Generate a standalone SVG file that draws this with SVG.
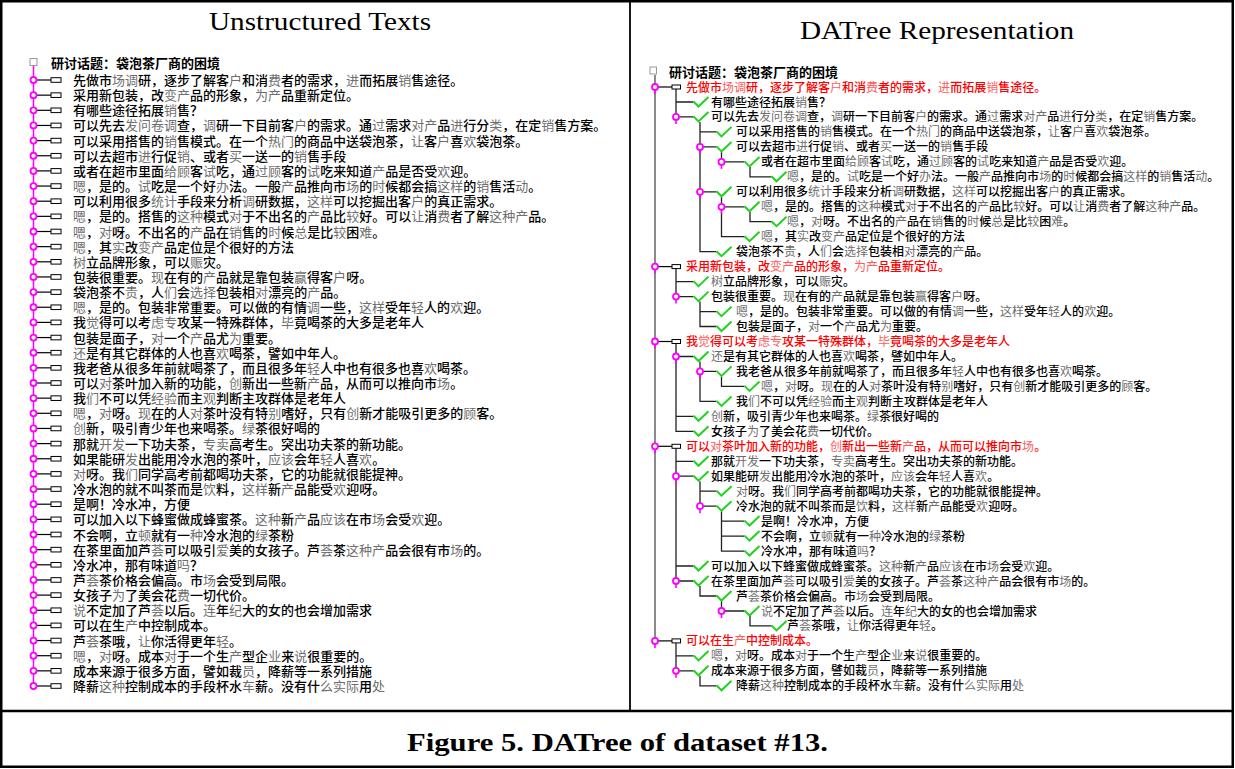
<svg xmlns="http://www.w3.org/2000/svg" xmlns:xlink="http://www.w3.org/1999/xlink" width="1235" height="769" viewBox="0 0 1235 769">
<style>
.t{font-family:"Noto Sans CJK SC","Noto Sans CJK JP",sans-serif;font-size:13px;font-weight:500;fill:#000}
.rt{font-size:12px}
.g{fill:#6e6e6e;font-weight:400}
.red{fill:#f00}
.red .g{fill:#ff5c5c}
.hd{font-weight:bold}
.ttl{font-family:"Liberation Serif","DejaVu Serif",serif;fill:#000}
.sub{fill:none;stroke:#222;stroke-width:1.3}
</style>
<defs>
<path id="ck" d="M0,-0.5 l5,5 l10,-9.5" fill="none" stroke="#1fd31f" stroke-width="2"/>
<g id="pin"><line x1="0" y1="3" x2="0" y2="7" stroke="#f0f" stroke-width="1.6"/><circle r="3" fill="#fff" stroke="#f0f" stroke-width="1.8"/></g>
<g id="lk"><line x1="36.5" y1="0" x2="51" y2="0" stroke="#000" stroke-width="1.2"/><rect x="51" y="-2.3" width="10" height="4.6" fill="#fff" stroke="#000" stroke-width="1"/><circle cx="33.5" cy="0" r="3" fill="#fff" stroke="#f0f" stroke-width="1.8"/></g>
<g id="r1"><line x1="658" y1="0" x2="672" y2="0" stroke="#000" stroke-width="1.2"/><rect x="672" y="-2" width="8.5" height="4" fill="#fff" stroke="#000" stroke-width="1"/><use xlink:href="#pin" x="655"/></g>
</defs>

<g id="frame" fill="none" stroke="#000">
<rect x="1.25" y="1.25" width="1231.5" height="765.5" stroke-width="2.5"/>
<line x1="630" y1="1" x2="630" y2="711" stroke-width="1.8"/>
<line x1="1" y1="711" x2="1234" y2="711" stroke-width="2.5"/>
</g>

<g id="titles" class="ttl">
<text x="209" y="30" font-size="26" textLength="222" lengthAdjust="spacingAndGlyphs">Unstructured Texts</text>
<text x="800" y="39" font-size="26" textLength="274" lengthAdjust="spacingAndGlyphs">DATree Representation</text>
<text x="407" y="751" font-size="25" font-weight="bold" textLength="421" lengthAdjust="spacingAndGlyphs">Figure 5. DATree of dataset #13.</text>
</g>

<!-- LEFT PANEL -->
<g id="left-connectors">
<line x1="33.5" y1="66" x2="33.5" y2="686" stroke="#f0f" stroke-width="1.5"/>
</g>
<g id="u-header">
<rect x="30" y="58.5" width="7" height="7" fill="#fff" stroke="#999" stroke-width="1"/>
<text class="t hd" x="51" y="67.5" font-size="14.5">研讨话题：袋泡茶厂商的困境</text>
</g>
<g id="u1" transform="translate(0,80)"><use xlink:href="#lk"/><text class="t" x="73" y="5">先做市<tspan class="g">场调</tspan>研，逐步了解客<tspan class="g">户</tspan>和消<tspan class="g">费</tspan>者的需求，<tspan class="g">进</tspan>而拓展<tspan class="g">销</tspan>售途径。</text></g>
<g id="u2" transform="translate(0,95.15)"><use xlink:href="#lk"/><text class="t" x="73" y="5">采用新包装，改<tspan class="g">变产</tspan>品的形象，<tspan class="g">为产</tspan>品重新定位。</text></g>
<g id="u3" transform="translate(0,110.3)"><use xlink:href="#lk"/><text class="t" x="73" y="5">有哪些途径拓展<tspan class="g">销</tspan>售？</text></g>
<g id="u4" transform="translate(0,125.45)"><use xlink:href="#lk"/><text class="t" x="73" y="5">可以先去<tspan class="g">发问卷调</tspan>查，<tspan class="g">调</tspan>研一下目前客<tspan class="g">户</tspan>的需求。通<tspan class="g">过</tspan>需求<tspan class="g">对产</tspan>品<tspan class="g">进</tspan>行分<tspan class="g">类</tspan>，在定<tspan class="g">销</tspan>售方案。</text></g>
<g id="u5" transform="translate(0,140.6)"><use xlink:href="#lk"/><text class="t" x="73" y="5">可以采用搭售的<tspan class="g">销</tspan>售模式。在一个<tspan class="g">热门</tspan>的商品中送袋泡茶，<tspan class="g">让</tspan>客<tspan class="g">户</tspan>喜<tspan class="g">欢</tspan>袋泡茶。</text></g>
<g id="u6" transform="translate(0,155.75)"><use xlink:href="#lk"/><text class="t" x="73" y="5">可以去超市<tspan class="g">进</tspan>行促<tspan class="g">销</tspan>、或者<tspan class="g">买</tspan>一送一的<tspan class="g">销</tspan>售手段</text></g>
<g id="u7" transform="translate(0,170.9)"><use xlink:href="#lk"/><text class="t" x="73" y="5">或者在超市里面<tspan class="g">给顾</tspan>客<tspan class="g">试</tspan>吃，通<tspan class="g">过顾</tspan>客的<tspan class="g">试</tspan>吃来知道<tspan class="g">产</tspan>品是否受<tspan class="g">欢</tspan>迎。</text></g>
<g id="u8" transform="translate(0,186.05)"><use xlink:href="#lk"/><text class="t" x="73" y="5"><tspan class="g">嗯</tspan>，是的。<tspan class="g">试</tspan>吃是一个好<tspan class="g">办</tspan>法。一般<tspan class="g">产</tspan>品推向市<tspan class="g">场</tspan>的<tspan class="g">时</tspan>候都会搞<tspan class="g">这样</tspan>的<tspan class="g">销</tspan>售活<tspan class="g">动</tspan>。</text></g>
<g id="u9" transform="translate(0,201.2)"><use xlink:href="#lk"/><text class="t" x="73" y="5">可以利用很多<tspan class="g">统计</tspan>手段来分析<tspan class="g">调</tspan>研数据，<tspan class="g">这样</tspan>可以挖掘出客<tspan class="g">户</tspan>的真正需求。</text></g>
<g id="u10" transform="translate(0,216.35)"><use xlink:href="#lk"/><text class="t" x="73" y="5"><tspan class="g">嗯</tspan>，是的。搭售的<tspan class="g">这种</tspan>模式<tspan class="g">对</tspan>于不出名的<tspan class="g">产</tspan>品比<tspan class="g">较</tspan>好。可以<tspan class="g">让</tspan>消<tspan class="g">费</tspan>者了解<tspan class="g">这种产</tspan>品。</text></g>
<g id="u11" transform="translate(0,231.5)"><use xlink:href="#lk"/><text class="t" x="73" y="5"><tspan class="g">嗯</tspan>，<tspan class="g">对</tspan>呀。不出名的<tspan class="g">产</tspan>品在<tspan class="g">销</tspan>售的<tspan class="g">时</tspan>候<tspan class="g">总</tspan>是比<tspan class="g">较</tspan>困<tspan class="g">难</tspan>。</text></g>
<g id="u12" transform="translate(0,246.65)"><use xlink:href="#lk"/><text class="t" x="73" y="5"><tspan class="g">嗯</tspan>，其<tspan class="g">实</tspan>改<tspan class="g">变产</tspan>品定位是个很好的方法</text></g>
<g id="u13" transform="translate(0,261.8)"><use xlink:href="#lk"/><text class="t" x="73" y="5"><tspan class="g">树</tspan>立品牌形象，可以<tspan class="g">赈</tspan>灾。</text></g>
<g id="u14" transform="translate(0,276.95)"><use xlink:href="#lk"/><text class="t" x="73" y="5">包装很重要。<tspan class="g">现</tspan>在有的<tspan class="g">产</tspan>品就是靠包装<tspan class="g">赢</tspan>得客<tspan class="g">户</tspan>呀。</text></g>
<g id="u15" transform="translate(0,292.1)"><use xlink:href="#lk"/><text class="t" x="73" y="5">袋泡茶不<tspan class="g">贵</tspan>，人<tspan class="g">们</tspan>会<tspan class="g">选择</tspan>包装相<tspan class="g">对</tspan>漂亮的<tspan class="g">产</tspan>品。</text></g>
<g id="u16" transform="translate(0,307.25)"><use xlink:href="#lk"/><text class="t" x="73" y="5"><tspan class="g">嗯</tspan>，是的。包装非常重要。可以做的有情<tspan class="g">调</tspan>一些，<tspan class="g">这样</tspan>受年<tspan class="g">轻</tspan>人的<tspan class="g">欢</tspan>迎。</text></g>
<g id="u17" transform="translate(0,322.4)"><use xlink:href="#lk"/><text class="t" x="73" y="5">我<tspan class="g">觉</tspan>得可以考<tspan class="g">虑专</tspan>攻某一特殊群体，<tspan class="g">毕</tspan>竟喝茶的大多是老年人</text></g>
<g id="u18" transform="translate(0,337.55)"><use xlink:href="#lk"/><text class="t" x="73" y="5">包装是面子，<tspan class="g">对</tspan>一个<tspan class="g">产</tspan>品尤<tspan class="g">为</tspan>重要。</text></g>
<g id="u19" transform="translate(0,352.7)"><use xlink:href="#lk"/><text class="t" x="73" y="5"><tspan class="g">还</tspan>是有其它群体的人也喜<tspan class="g">欢</tspan>喝茶，譬如中年人。</text></g>
<g id="u20" transform="translate(0,367.85)"><use xlink:href="#lk"/><text class="t" x="73" y="5">我老爸从很多年前就喝茶了，而且很多年<tspan class="g">轻</tspan>人中也有很多也喜<tspan class="g">欢</tspan>喝茶。</text></g>
<g id="u21" transform="translate(0,383)"><use xlink:href="#lk"/><text class="t" x="73" y="5">可以<tspan class="g">对</tspan>茶叶加入新的功能，<tspan class="g">创</tspan>新出一些新<tspan class="g">产</tspan>品，从而可以推向市<tspan class="g">场</tspan>。</text></g>
<g id="u22" transform="translate(0,398.15)"><use xlink:href="#lk"/><text class="t" x="73" y="5">我<tspan class="g">们</tspan>不可以凭<tspan class="g">经验</tspan>而主<tspan class="g">观</tspan>判断主攻群体是老年人</text></g>
<g id="u23" transform="translate(0,413.3)"><use xlink:href="#lk"/><text class="t" x="73" y="5"><tspan class="g">嗯</tspan>，<tspan class="g">对</tspan>呀。<tspan class="g">现</tspan>在的人<tspan class="g">对</tspan>茶叶没有特<tspan class="g">别</tspan>嗜好，只有<tspan class="g">创</tspan>新才能吸引更多的<tspan class="g">顾</tspan>客。</text></g>
<g id="u24" transform="translate(0,428.45)"><use xlink:href="#lk"/><text class="t" x="73" y="5"><tspan class="g">创</tspan>新，吸引青少年也来喝茶。<tspan class="g">绿</tspan>茶很好喝的</text></g>
<g id="u25" transform="translate(0,443.6)"><use xlink:href="#lk"/><text class="t" x="73" y="5">那就<tspan class="g">开发</tspan>一下功夫茶，<tspan class="g">专卖</tspan>高考生。突出功夫茶的新功能。</text></g>
<g id="u26" transform="translate(0,458.75)"><use xlink:href="#lk"/><text class="t" x="73" y="5">如果能研<tspan class="g">发</tspan>出能用冷水泡的茶叶，<tspan class="g">应该</tspan>会年<tspan class="g">轻</tspan>人喜<tspan class="g">欢</tspan>。</text></g>
<g id="u27" transform="translate(0,473.9)"><use xlink:href="#lk"/><text class="t" x="73" y="5"><tspan class="g">对</tspan>呀。我<tspan class="g">们</tspan>同学高考前都喝功夫茶，它的功能就很能提神。</text></g>
<g id="u28" transform="translate(0,489.05)"><use xlink:href="#lk"/><text class="t" x="73" y="5">冷水泡的就不叫茶而是<tspan class="g">饮</tspan>料，<tspan class="g">这样</tspan>新<tspan class="g">产</tspan>品能受<tspan class="g">欢</tspan>迎呀。</text></g>
<g id="u29" transform="translate(0,504.2)"><use xlink:href="#lk"/><text class="t" x="73" y="5">是啊！冷水冲，方便</text></g>
<g id="u30" transform="translate(0,519.35)"><use xlink:href="#lk"/><text class="t" x="73" y="5">可以加入以下蜂蜜做成蜂蜜茶。<tspan class="g">这种</tspan>新<tspan class="g">产</tspan>品<tspan class="g">应该</tspan>在市<tspan class="g">场</tspan>会受<tspan class="g">欢</tspan>迎。</text></g>
<g id="u31" transform="translate(0,534.5)"><use xlink:href="#lk"/><text class="t" x="73" y="5">不会啊，立<tspan class="g">顿</tspan>就有一<tspan class="g">种</tspan>冷水泡的<tspan class="g">绿</tspan>茶粉</text></g>
<g id="u32" transform="translate(0,549.65)"><use xlink:href="#lk"/><text class="t" x="73" y="5">在茶里面加芦<tspan class="g">荟</tspan>可以吸引<tspan class="g">爱</tspan>美的女孩子。芦<tspan class="g">荟</tspan>茶<tspan class="g">这种产</tspan>品会很有市<tspan class="g">场</tspan>的。</text></g>
<g id="u33" transform="translate(0,564.8)"><use xlink:href="#lk"/><text class="t" x="73" y="5">冷水冲，那有味道<tspan class="g">吗</tspan>？</text></g>
<g id="u34" transform="translate(0,579.95)"><use xlink:href="#lk"/><text class="t" x="73" y="5">芦<tspan class="g">荟</tspan>茶价格会偏高。市<tspan class="g">场</tspan>会受到局限。</text></g>
<g id="u35" transform="translate(0,595.1)"><use xlink:href="#lk"/><text class="t" x="73" y="5">女孩子<tspan class="g">为</tspan>了美会花<tspan class="g">费</tspan>一切代价。</text></g>
<g id="u36" transform="translate(0,610.25)"><use xlink:href="#lk"/><text class="t" x="73" y="5"><tspan class="g">说</tspan>不定加了芦<tspan class="g">荟</tspan>以后。<tspan class="g">连</tspan>年<tspan class="g">纪</tspan>大的女的也会增加需求</text></g>
<g id="u37" transform="translate(0,625.4)"><use xlink:href="#lk"/><text class="t" x="73" y="5">可以在生<tspan class="g">产</tspan>中控制成本。</text></g>
<g id="u38" transform="translate(0,640.55)"><use xlink:href="#lk"/><text class="t" x="73" y="5">芦<tspan class="g">荟</tspan>茶哦，<tspan class="g">让</tspan>你活得更年<tspan class="g">轻</tspan>。</text></g>
<g id="u39" transform="translate(0,655.7)"><use xlink:href="#lk"/><text class="t" x="73" y="5"><tspan class="g">嗯</tspan>，<tspan class="g">对</tspan>呀。成本<tspan class="g">对</tspan>于一个生<tspan class="g">产</tspan>型企<tspan class="g">业</tspan>来<tspan class="g">说</tspan>很重要的。</text></g>
<g id="u40" transform="translate(0,670.85)"><use xlink:href="#lk"/><text class="t" x="73" y="5">成本来源于很多方面，譬如裁<tspan class="g">员</tspan>，降薪等一系列措施</text></g>
<g id="u41" transform="translate(0,686)"><use xlink:href="#lk"/><text class="t" x="73" y="5">降薪<tspan class="g">这种</tspan>控制成本的手段杯水<tspan class="g">车</tspan>薪。没有什<tspan class="g">么实际</tspan>用<tspan class="g">处</tspan></text></g>

<!-- RIGHT PANEL -->
<g id="connectors">
<line x1="655" y1="75" x2="655" y2="640.9" stroke="#8a8a8a" stroke-width="2"/>
<path class="sub" d="M676,89V116.9M676,102H693.5M676,116.9H693.5
M700,121.9V251.7H716.5M700,131.9H716.5M700,146.9H716.5M700,191.8H716.5
M721.5,151.9V161.9H744.5
M750,166.9V176.8H771.5
M721.5,196.8V236.7H744.5M721.5,206.8H744.5
M750,211.8V221.7H771.5
M676,268.6V296.6H693.5M676,281.6H693.5
M700,301.6V326.5H716.5M700,311.6H716.5
M676,343.5V431.3H693.5M676,356.5H693.5M676,416.3H693.5
M700,361.5V401.4H716.5M700,371.4H716.5
M721.5,376.4V386.4H744.5
M676,448.3V581H693.5M676,461.3H693.5M676,476.2H693.5M676,566H693.5
M700,481.2V506.2H716.5M700,491.2H716.5
M721.5,511.2V551.1H744.5M721.5,521.1H744.5M721.5,536.1H744.5
M700,586V596H716.5
M721.5,601V611H744.5
M750,616V625.9H771.5
M676,642.9V670.8H693.5M676,655.9H693.5
M700,675.8V685.8H716.5"/>
</g>
<g id="n-header">
<rect x="650" y="67" width="6.5" height="7" fill="#fff" stroke="#999" stroke-width="1"/>
<text class="t hd" x="669" y="76.8" font-size="13.5">研讨话题：袋泡茶厂商的困境</text>
</g>
<g id="n0" transform="translate(0,87)"><use xlink:href="#r1"/><text class="t rt red" x="686" y="4.5">先做市<tspan class="g">场调</tspan>研，逐步了解客<tspan class="g">户</tspan>和消<tspan class="g">费</tspan>者的需求，<tspan class="g">进</tspan>而拓展<tspan class="g">销</tspan>售途径。</text></g>
<g id="n1" transform="translate(0,102)"><use xlink:href="#ck" x="693.5"/><text class="t rt" x="711" y="4.5">有哪些途径拓展<tspan class="g">销</tspan>售？</text></g>
<g id="n2" transform="translate(0,116.9)"><use xlink:href="#ck" x="693.5"/><use xlink:href="#pin" x="676"/><text class="t rt" x="711" y="4.5">可以先去<tspan class="g">发问卷调</tspan>查，<tspan class="g">调</tspan>研一下目前客<tspan class="g">户</tspan>的需求。通<tspan class="g">过</tspan>需求<tspan class="g">对产</tspan>品<tspan class="g">进</tspan>行分<tspan class="g">类</tspan>，在定<tspan class="g">销</tspan>售方案。</text></g>
<g id="n3" transform="translate(0,131.9)"><use xlink:href="#ck" x="716.5"/><text class="t rt" x="736" y="4.5">可以采用搭售的<tspan class="g">销</tspan>售模式。在一个<tspan class="g">热门</tspan>的商品中送袋泡茶，<tspan class="g">让</tspan>客<tspan class="g">户</tspan>喜<tspan class="g">欢</tspan>袋泡茶。</text></g>
<g id="n4" transform="translate(0,146.9)"><use xlink:href="#ck" x="716.5"/><use xlink:href="#pin" x="700"/><text class="t rt" x="736" y="4.5">可以去超市<tspan class="g">进</tspan>行促<tspan class="g">销</tspan>、或者<tspan class="g">买</tspan>一送一的<tspan class="g">销</tspan>售手段</text></g>
<g id="n5" transform="translate(0,161.9)"><use xlink:href="#ck" x="744.5"/><use xlink:href="#pin" x="721.5"/><text class="t rt" x="761" y="4.5">或者在超市里面<tspan class="g">给顾</tspan>客<tspan class="g">试</tspan>吃，通<tspan class="g">过顾</tspan>客的<tspan class="g">试</tspan>吃来知道<tspan class="g">产</tspan>品是否受<tspan class="g">欢</tspan>迎。</text></g>
<g id="n6" transform="translate(0,176.8)"><use xlink:href="#ck" x="771.5"/><text class="t rt" x="787" y="4.5"><tspan class="g">嗯</tspan>，是的。<tspan class="g">试</tspan>吃是一个好<tspan class="g">办</tspan>法。一般<tspan class="g">产</tspan>品推向市<tspan class="g">场</tspan>的<tspan class="g">时</tspan>候都会搞<tspan class="g">这样</tspan>的<tspan class="g">销</tspan>售活<tspan class="g">动</tspan>。</text></g>
<g id="n7" transform="translate(0,191.8)"><use xlink:href="#ck" x="716.5"/><use xlink:href="#pin" x="700"/><text class="t rt" x="736" y="4.5">可以利用很多<tspan class="g">统计</tspan>手段来分析<tspan class="g">调</tspan>研数据，<tspan class="g">这样</tspan>可以挖掘出客<tspan class="g">户</tspan>的真正需求。</text></g>
<g id="n8" transform="translate(0,206.8)"><use xlink:href="#ck" x="744.5"/><use xlink:href="#pin" x="721.5"/><text class="t rt" x="761" y="4.5"><tspan class="g">嗯</tspan>，是的。搭售的<tspan class="g">这种</tspan>模式<tspan class="g">对</tspan>于不出名的<tspan class="g">产</tspan>品比<tspan class="g">较</tspan>好。可以<tspan class="g">让</tspan>消<tspan class="g">费</tspan>者了解<tspan class="g">这种产</tspan>品。</text></g>
<g id="n9" transform="translate(0,221.7)"><use xlink:href="#ck" x="771.5"/><text class="t rt" x="787" y="4.5"><tspan class="g">嗯</tspan>，<tspan class="g">对</tspan>呀。不出名的<tspan class="g">产</tspan>品在<tspan class="g">销</tspan>售的<tspan class="g">时</tspan>候<tspan class="g">总</tspan>是比<tspan class="g">较</tspan>困<tspan class="g">难</tspan>。</text></g>
<g id="n10" transform="translate(0,236.7)"><use xlink:href="#ck" x="744.5"/><text class="t rt" x="761" y="4.5"><tspan class="g">嗯</tspan>，其<tspan class="g">实</tspan>改<tspan class="g">变产</tspan>品定位是个很好的方法</text></g>
<g id="n11" transform="translate(0,251.7)"><use xlink:href="#ck" x="716.5"/><text class="t rt" x="736" y="4.5">袋泡茶不<tspan class="g">贵</tspan>，人<tspan class="g">们</tspan>会<tspan class="g">选择</tspan>包装相<tspan class="g">对</tspan>漂亮的<tspan class="g">产</tspan>品。</text></g>
<g id="n12" transform="translate(0,266.6)"><use xlink:href="#r1"/><text class="t rt red" x="686" y="4.5">采用新包装，改<tspan class="g">变产</tspan>品的形象，<tspan class="g">为产</tspan>品重新定位。</text></g>
<g id="n13" transform="translate(0,281.6)"><use xlink:href="#ck" x="693.5"/><text class="t rt" x="711" y="4.5"><tspan class="g">树</tspan>立品牌形象，可以<tspan class="g">赈</tspan>灾。</text></g>
<g id="n14" transform="translate(0,296.6)"><use xlink:href="#ck" x="693.5"/><use xlink:href="#pin" x="676"/><text class="t rt" x="711" y="4.5">包装很重要。<tspan class="g">现</tspan>在有的<tspan class="g">产</tspan>品就是靠包装<tspan class="g">赢</tspan>得客<tspan class="g">户</tspan>呀。</text></g>
<g id="n15" transform="translate(0,311.6)"><use xlink:href="#ck" x="716.5"/><text class="t rt" x="736" y="4.5"><tspan class="g">嗯</tspan>，是的。包装非常重要。可以做的有情<tspan class="g">调</tspan>一些，<tspan class="g">这样</tspan>受年<tspan class="g">轻</tspan>人的<tspan class="g">欢</tspan>迎。</text></g>
<g id="n16" transform="translate(0,326.5)"><use xlink:href="#ck" x="716.5"/><text class="t rt" x="736" y="4.5">包装是面子，<tspan class="g">对</tspan>一个<tspan class="g">产</tspan>品尤<tspan class="g">为</tspan>重要。</text></g>
<g id="n17" transform="translate(0,341.5)"><use xlink:href="#r1"/><text class="t rt red" x="686" y="4.5">我<tspan class="g">觉</tspan>得可以考<tspan class="g">虑专</tspan>攻某一特殊群体，<tspan class="g">毕</tspan>竟喝茶的大多是老年人</text></g>
<g id="n18" transform="translate(0,356.5)"><use xlink:href="#ck" x="693.5"/><use xlink:href="#pin" x="676"/><text class="t rt" x="711" y="4.5"><tspan class="g">还</tspan>是有其它群体的人也喜<tspan class="g">欢</tspan>喝茶，譬如中年人。</text></g>
<g id="n19" transform="translate(0,371.4)"><use xlink:href="#ck" x="716.5"/><use xlink:href="#pin" x="700"/><text class="t rt" x="736" y="4.5">我老爸从很多年前就喝茶了，而且很多年<tspan class="g">轻</tspan>人中也有很多也喜<tspan class="g">欢</tspan>喝茶。</text></g>
<g id="n20" transform="translate(0,386.4)"><use xlink:href="#ck" x="744.5"/><text class="t rt" x="761" y="4.5"><tspan class="g">嗯</tspan>，<tspan class="g">对</tspan>呀。<tspan class="g">现</tspan>在的人<tspan class="g">对</tspan>茶叶没有特<tspan class="g">别</tspan>嗜好，只有<tspan class="g">创</tspan>新才能吸引更多的<tspan class="g">顾</tspan>客。</text></g>
<g id="n21" transform="translate(0,401.4)"><use xlink:href="#ck" x="716.5"/><text class="t rt" x="736" y="4.5">我<tspan class="g">们</tspan>不可以凭<tspan class="g">经验</tspan>而主<tspan class="g">观</tspan>判断主攻群体是老年人</text></g>
<g id="n22" transform="translate(0,416.3)"><use xlink:href="#ck" x="693.5"/><text class="t rt" x="711" y="4.5"><tspan class="g">创</tspan>新，吸引青少年也来喝茶。<tspan class="g">绿</tspan>茶很好喝的</text></g>
<g id="n23" transform="translate(0,431.3)"><use xlink:href="#ck" x="693.5"/><text class="t rt" x="711" y="4.5">女孩子<tspan class="g">为</tspan>了美会花<tspan class="g">费</tspan>一切代价。</text></g>
<g id="n24" transform="translate(0,446.3)"><use xlink:href="#r1"/><text class="t rt red" x="686" y="4.5">可以<tspan class="g">对</tspan>茶叶加入新的功能，<tspan class="g">创</tspan>新出一些新<tspan class="g">产</tspan>品，从而可以推向市<tspan class="g">场</tspan>。</text></g>
<g id="n25" transform="translate(0,461.3)"><use xlink:href="#ck" x="693.5"/><text class="t rt" x="711" y="4.5">那就<tspan class="g">开发</tspan>一下功夫茶，<tspan class="g">专卖</tspan>高考生。突出功夫茶的新功能。</text></g>
<g id="n26" transform="translate(0,476.2)"><use xlink:href="#ck" x="693.5"/><use xlink:href="#pin" x="676"/><text class="t rt" x="711" y="4.5">如果能研<tspan class="g">发</tspan>出能用冷水泡的茶叶，<tspan class="g">应该</tspan>会年<tspan class="g">轻</tspan>人喜<tspan class="g">欢</tspan>。</text></g>
<g id="n27" transform="translate(0,491.2)"><use xlink:href="#ck" x="716.5"/><text class="t rt" x="736" y="4.5"><tspan class="g">对</tspan>呀。我<tspan class="g">们</tspan>同学高考前都喝功夫茶，它的功能就很能提神。</text></g>
<g id="n28" transform="translate(0,506.2)"><use xlink:href="#ck" x="716.5"/><use xlink:href="#pin" x="700"/><text class="t rt" x="736" y="4.5">冷水泡的就不叫茶而是<tspan class="g">饮</tspan>料，<tspan class="g">这样</tspan>新<tspan class="g">产</tspan>品能受<tspan class="g">欢</tspan>迎呀。</text></g>
<g id="n29" transform="translate(0,521.1)"><use xlink:href="#ck" x="744.5"/><text class="t rt" x="761" y="4.5">是啊！冷水冲，方便</text></g>
<g id="n30" transform="translate(0,536.1)"><use xlink:href="#ck" x="744.5"/><text class="t rt" x="761" y="4.5">不会啊，立<tspan class="g">顿</tspan>就有一<tspan class="g">种</tspan>冷水泡的<tspan class="g">绿</tspan>茶粉</text></g>
<g id="n31" transform="translate(0,551.1)"><use xlink:href="#ck" x="744.5"/><text class="t rt" x="761" y="4.5">冷水冲，那有味道<tspan class="g">吗</tspan>？</text></g>
<g id="n32" transform="translate(0,566)"><use xlink:href="#ck" x="693.5"/><text class="t rt" x="711" y="4.5">可以加入以下蜂蜜做成蜂蜜茶。<tspan class="g">这种</tspan>新<tspan class="g">产</tspan>品<tspan class="g">应该</tspan>在市<tspan class="g">场</tspan>会受<tspan class="g">欢</tspan>迎。</text></g>
<g id="n33" transform="translate(0,581)"><use xlink:href="#ck" x="693.5"/><use xlink:href="#pin" x="676"/><text class="t rt" x="711" y="4.5">在茶里面加芦<tspan class="g">荟</tspan>可以吸引<tspan class="g">爱</tspan>美的女孩子。芦<tspan class="g">荟</tspan>茶<tspan class="g">这种产</tspan>品会很有市<tspan class="g">场</tspan>的。</text></g>
<g id="n34" transform="translate(0,596)"><use xlink:href="#ck" x="716.5"/><text class="t rt" x="736" y="4.5">芦<tspan class="g">荟</tspan>茶价格会偏高。市<tspan class="g">场</tspan>会受到局限。</text></g>
<g id="n35" transform="translate(0,611)"><use xlink:href="#ck" x="744.5"/><use xlink:href="#pin" x="721.5"/><text class="t rt" x="761" y="4.5"><tspan class="g">说</tspan>不定加了芦<tspan class="g">荟</tspan>以后。<tspan class="g">连</tspan>年<tspan class="g">纪</tspan>大的女的也会增加需求</text></g>
<g id="n36" transform="translate(0,625.9)"><use xlink:href="#ck" x="771.5"/><text class="t rt" x="787" y="4.5">芦<tspan class="g">荟</tspan>茶哦，<tspan class="g">让</tspan>你活得更年<tspan class="g">轻</tspan>。</text></g>
<g id="n37" transform="translate(0,640.9)"><use xlink:href="#r1"/><text class="t rt red" x="686" y="4.5">可以在生<tspan class="g">产</tspan>中控制成本。</text></g>
<g id="n38" transform="translate(0,655.9)"><use xlink:href="#ck" x="693.5"/><text class="t rt" x="711" y="4.5"><tspan class="g">嗯</tspan>，<tspan class="g">对</tspan>呀。成本<tspan class="g">对</tspan>于一个生<tspan class="g">产</tspan>型企<tspan class="g">业</tspan>来<tspan class="g">说</tspan>很重要的。</text></g>
<g id="n39" transform="translate(0,670.8)"><use xlink:href="#ck" x="693.5"/><use xlink:href="#pin" x="676"/><text class="t rt" x="711" y="4.5">成本来源于很多方面，譬如裁<tspan class="g">员</tspan>，降薪等一系列措施</text></g>
<g id="n40" transform="translate(0,685.8)"><use xlink:href="#ck" x="716.5"/><text class="t rt" x="736" y="4.5">降薪<tspan class="g">这种</tspan>控制成本的手段杯水<tspan class="g">车</tspan>薪。没有什<tspan class="g">么实际</tspan>用<tspan class="g">处</tspan></text></g>
</svg>
